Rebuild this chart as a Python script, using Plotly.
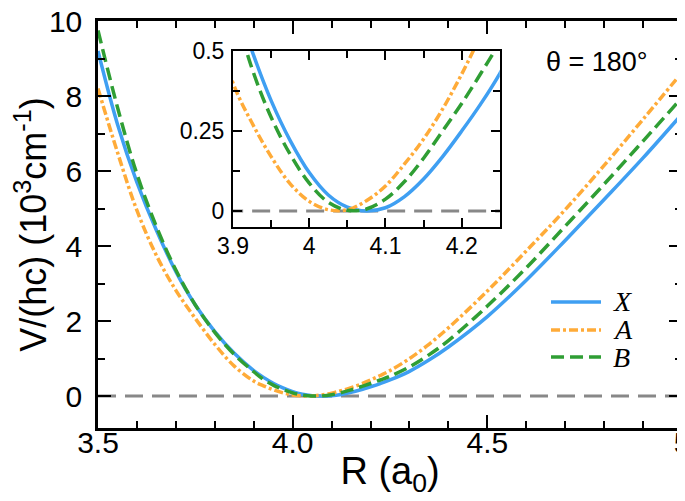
import plotly.graph_objects as go

# ---- data ----
R = [3.50, 3.55, 3.60, 3.65, 3.70, 3.75, 3.80, 3.85, 3.90, 3.925, 3.95, 3.975,
     4.00, 4.025, 4.05, 4.075, 4.10, 4.125, 4.15, 4.175, 4.20, 4.225, 4.25,
     4.30, 4.35, 4.40, 4.50, 4.60, 4.70, 4.80, 4.90, 5.00]

V_X = [9.20, 7.25, 5.70, 4.42, 3.32, 2.43, 1.72, 1.14, 0.68, 0.50, 0.345, 0.22,
       0.12, 0.05, 0.012, 0.0, 0.010, 0.045, 0.10, 0.17, 0.25, 0.335, 0.43,
       0.66, 0.96, 1.31, 2.12, 3.09, 4.15, 5.24, 6.35, 7.52]

V_A = [8.20, 6.50, 4.95, 3.75, 2.82, 2.07, 1.38, 0.80, 0.40, 0.275, 0.17, 0.085,
       0.03, 0.004, 0.004, 0.032, 0.078, 0.147, 0.225, 0.319, 0.428, 0.55, 0.68,
       1.00, 1.38, 1.82, 2.80, 3.87, 4.97, 6.15, 7.38, 8.63]

V_B = [9.75, 7.70, 5.92, 4.52, 3.36, 2.43, 1.70, 1.11, 0.65, 0.445, 0.293, 0.177,
       0.087, 0.027, 0.002, 0.006, 0.037, 0.092, 0.165, 0.25, 0.336, 0.43, 0.53,
       0.78, 1.10, 1.48, 2.40, 3.42, 4.53, 5.65, 6.80, 7.96]

series_names = ["X", "A", "B"]
zero_x = [3.5, 5.0]
zero_y = [0, 0]

main_xticks = [3.5, 4.0, 4.5, 5.0]
main_xtext = ["3.5", "4.0", "4.5", "5"]
main_yticks = [0, 2, 4, 6, 8, 10]
inset_xticks = [3.9, 4.0, 4.1, 4.2]
inset_xtext = ["3.9", "4", "4.1", "4.2"]
inset_yticks = [0, 0.25, 0.5]
inset_ytext = ["0", "0.25", "0.5"]

# minor tick positions (axis decoration)
main_xminor = [3.6, 3.7, 3.8, 3.9, 4.1, 4.2, 4.3, 4.4, 4.6, 4.7, 4.8, 4.9]
main_yminor = [1, 3, 5, 7, 9]
inset_xminor = [3.95, 4.05, 4.15, 4.25]
inset_yminor = [0.125, 0.375]

# ---- styles ----
C_X = "#3f9ff2"
C_A = "#ffab38"
C_B = "#2f9e34"
GRAY = "#888888"
DASH_A = "9px,3px,3px,3px"
DASH_B = "13px,6px"
DASH_Z = "18px,9px"
FONT = "Liberation Sans, Arial, sans-serif"
LW = 3.5

fig = go.Figure()

for xa, ya in (("x", "y"), ("x2", "y2")):
    fig.add_trace(go.Scatter(x=zero_x, y=zero_y, mode="lines", xaxis=xa, yaxis=ya,
                             line=dict(color=GRAY, width=3, dash=DASH_Z),
                             showlegend=False, hoverinfo="skip"))
    fig.add_trace(go.Scatter(x=R, y=V_X, mode="lines", xaxis=xa, yaxis=ya,
                             line=dict(color=C_X, width=LW, shape="spline"),
                             showlegend=False))
    fig.add_trace(go.Scatter(x=R, y=V_A, mode="lines", xaxis=xa, yaxis=ya,
                             line=dict(color=C_A, width=LW, dash=DASH_A, shape="spline"),
                             showlegend=False))
    fig.add_trace(go.Scatter(x=R, y=V_B, mode="lines", xaxis=xa, yaxis=ya,
                             line=dict(color=C_B, width=LW, dash=DASH_B, shape="spline"),
                             showlegend=False))


def axis(size, lw, tlen, mlen, tickvals, ticktext, minorvals, **kw):
    d = dict(showline=True, linecolor="black", linewidth=lw, mirror="allticks",
             ticks="inside", ticklen=tlen, tickwidth=2, tickcolor="black",
             showgrid=False, zeroline=False, automargin=False,
             ticklabeloverflow="allow",
             tickfont=dict(family=FONT, size=size, color="black"),
             tickmode="array", tickvals=tickvals,
             minor=dict(ticks="inside", tickmode="array", tickvals=minorvals,
                        ticklen=mlen, tickwidth=2, tickcolor="black", showgrid=False))
    if ticktext is not None:
        d["ticktext"] = ticktext
    d.update(kw)
    return d


fig.update_layout(
    width=685, height=501,
    margin=dict(l=90, r=11, t=13, b=81, autoexpand=False),
    paper_bgcolor="white", plot_bgcolor="white",
    showlegend=False,
    xaxis=axis(30, 2.5, 13, 7, main_xticks, main_xtext, main_xminor,
               domain=[0, 1], range=[3.5, 5.0], anchor="y",
               ticklabelstandoff=-14,
               title=dict(text="R (a<sub>0</sub>)", standoff=0,
                          font=dict(family=FONT, size=38, color="black"))),
    yaxis=axis(30, 2.5, 13, 7, main_yticks, None, main_yminor,
               domain=[0, 1], range=[-0.85, 10], anchor="x",
               ticklabelstandoff=7,
               title=dict(text="V/(hc) (10<sup>3</sup>cm<sup>-1</sup>)", standoff=0,
                          font=dict(family=FONT, size=36, color="black"))),
    xaxis2=axis(23, 2, 9, 7, inset_xticks, inset_xtext, inset_xminor,
                domain=[0.2312, 0.688], range=[3.9, 4.25], anchor="y2",
                ticklabelstandoff=-3),
    yaxis2=axis(23, 2, 9, 7, inset_yticks, inset_ytext, inset_yminor,
                domain=[0.494, 0.926], range=[-0.05, 0.5], anchor="x2",
                ticklabelstandoff=2),
)

# legend (drawn manually to match long line samples)
leg_y = [0.3096, 0.2408, 0.1744]
leg_col = [C_X, C_A, C_B]
leg_dash = ["solid", DASH_A, DASH_B]
for name, yy, col, dsh in zip(series_names, leg_y, leg_col, leg_dash):
    fig.add_shape(type="line", xref="paper", yref="paper", x0=0.7757, x1=0.8613,
                  y0=yy, y1=yy, line=dict(color=col, width=LW, dash=dsh))
    fig.add_annotation(xref="paper", yref="paper", x=0.878, y=yy, xanchor="left",
                       yanchor="middle", showarrow=False, text=f"<i>{name}</i>",
                       font=dict(family="Liberation Serif, Times New Roman, serif",
                                 size=28, color="black"))

fig.add_annotation(xref="paper", yref="paper", x=0.854, y=0.899, xanchor="center",
                   yanchor="middle", showarrow=False, text="θ = 180°",
                   font=dict(family=FONT, size=27, color="black"))

fig.write_html("out.html")
